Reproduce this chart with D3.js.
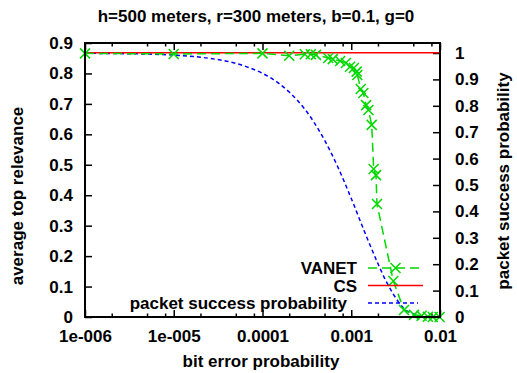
<!DOCTYPE html>
<html>
<head>
<meta charset="utf-8">
<script src="https://cdn.jsdelivr.net/npm/d3@7"></script>
<style>
  body { margin: 0; background: #fff; }
  text { font-family: "Liberation Sans", Arial, sans-serif; font-weight: bold; }
</style>
</head>
<body>
<div id="chart"></div>
<script>
// chart size
const width = 517,
      height = 373;
const margin = { top: 43, right: 77, bottom: 56, left: 85 };

// data
const titleText = "h=500 meters, r=300 meters, b=0.1, g=0";

const vanetX = [1e-6, 1e-5, 1e-4, 2e-4, 3e-4, 3.5e-4, 4e-4, 5.5e-4, 6.2e-4, 7.5e-4, 8.7e-4,
                9.7e-4, 1.07e-3, 1.15e-3, 1.17e-3, 1.28e-3, 1.37e-3, 1.47e-3, 1.56e-3, 1.7e-3,
                1.79e-3, 1.9e-3, 1.95e-3, 2.98e-3, 3.93e-3, 5.1e-3, 6.2e-3, 7.3e-3, 8.3e-3, 9.9e-3];
const vanetY = [0.866, 0.864, 0.866, 0.858, 0.863, 0.863, 0.861, 0.851, 0.847, 0.841, 0.834,
                0.822, 0.818, 0.806, 0.795, 0.749, 0.736, 0.696, 0.680, 0.631,
                0.486, 0.466, 0.371, 0.118, 0.023, 0.007, 0.004, 0.001, 0, 0];

const csX = [1e-6, 1e-2];
const csY = [0.868, 0.868];

const pspX = [1e-6, 2e-6, 5e-6, 1e-5, 2e-5, 3e-5, 5e-5, 7e-5, 1e-4, 1.5e-4, 2e-4, 3e-4, 4e-4,
              5e-4, 7e-4, 1e-3, 1.5e-3, 2e-3, 2.5e-3, 3e-3, 4e-3, 5e-3, 6e-3, 8e-3, 1e-2];
const pspY = [0.999, 0.998, 0.996, 0.992, 0.984, 0.976, 0.961, 0.945, 0.923, 0.887, 0.852, 0.787, 0.726,
              0.670, 0.571, 0.449, 0.301, 0.202, 0.132, 0.085, 0.03, 0.012, 0.004, 0.001, 0];

const xMajor = [1e-6, 1e-5, 1e-4, 1e-3, 1e-2];
const xLabels = ["1e-006", "1e-005", "0.0001", "0.001", "0.01"];
const xMinorSteps = [2, 5, 8];
const yLeftTicks = [0, 0.1, 0.2, 0.3, 0.4, 0.5, 0.6, 0.7, 0.8, 0.9];
const yLeftLabels = ["0", "0.1", "0.2", "0.3", "0.4", "0.5", "0.6", "0.7", "0.8", "0.9"];
const yRightTicks = [0, 0.1, 0.2, 0.3, 0.4, 0.5, 0.6, 0.7, 0.8, 0.9, 1];
const yRightLabels = ["0", "0.1", "0.2", "0.3", "0.4", "0.5", "0.6", "0.7", "0.8", "0.9", "1"];

const legendItems = ["VANET", "CS", "packet success probability"];

// colours
const green = "#00d800", red = "#ff0000", blue = "#0000ff";

const svg = d3.select("#chart").append("svg")
    .attr("width", width)
    .attr("height", height);

const x = d3.scaleLog().domain([1e-6, 1e-2]).range([margin.left, width - margin.right]);
const yL = d3.scaleLinear().domain([0, 0.9]).range([height - margin.bottom, margin.top]);
const yR = d3.scaleLinear().domain([0, 1]).range([height - margin.bottom, margin.top + 10]);

const plotBottom = height - margin.bottom;
const plotRight = width - margin.right;

// minor tick positions for the log axis
const xMinor = [];
xMajor.slice(0, -1).forEach(d => xMinorSteps.forEach(s => xMinor.push(d * s)));

// axes (gnuplot style: ticks pointing inward)
function styleAxis(g) {
    g.select(".domain").remove();
    g.selectAll(".tick line").attr("stroke", "#000").attr("stroke-width", 1.5);
    g.selectAll(".tick text").attr("fill", "#000").style("font-size", "17px");
}

svg.append("g")
    .attr("transform", `translate(0,${plotBottom})`)
    .call(d3.axisBottom(x).tickValues(xMajor).tickFormat((d, i) => xLabels[i]).tickSize(-7).tickPadding(13))
    .call(styleAxis);
svg.append("g")
    .attr("transform", `translate(0,${plotBottom})`)
    .call(d3.axisBottom(x).tickValues(xMinor).tickFormat("").tickSize(-3.5))
    .call(styleAxis);
svg.append("g")
    .attr("transform", `translate(0,${margin.top})`)
    .call(d3.axisTop(x).tickValues(xMajor).tickFormat("").tickSize(-7))
    .call(styleAxis);
svg.append("g")
    .attr("transform", `translate(0,${margin.top})`)
    .call(d3.axisTop(x).tickValues(xMinor).tickFormat("").tickSize(-3.5))
    .call(styleAxis);

svg.append("g")
    .attr("transform", `translate(${margin.left},0)`)
    .call(d3.axisLeft(yL).tickValues(yLeftTicks).tickFormat((d, i) => yLeftLabels[i]).tickSize(-7).tickPadding(12))
    .call(styleAxis);
svg.append("g")
    .attr("transform", `translate(${plotRight},0)`)
    .call(d3.axisRight(yR).tickValues(yRightTicks).tickFormat((d, i) => yRightLabels[i]).tickSize(-7).tickPadding(15))
    .call(styleAxis);

// series
const plot = svg.append("g");

const pspLine = d3.line().x((d, i) => x(pspX[i])).y(d => yR(d)).curve(d3.curveMonotoneX);
plot.append("path")
    .attr("d", pspLine(pspY))
    .attr("fill", "none")
    .attr("stroke", blue)
    .attr("stroke-width", 1.5)
    .attr("stroke-dasharray", "4,3");

const csLine = d3.line().x((d, i) => x(csX[i])).y(d => yL(d));
plot.append("path")
    .attr("d", csLine(csY))
    .attr("fill", "none")
    .attr("stroke", red)
    .attr("stroke-width", 1.5);

const vanetLine = d3.line().x((d, i) => x(vanetX[i])).y(d => yL(d));
plot.append("path")
    .attr("d", vanetLine(vanetY))
    .attr("fill", "none")
    .attr("stroke", green)
    .attr("stroke-width", 1.5)
    .attr("stroke-dasharray", "9,5");

// cross markers
function cross(g, cx, cy) {
    const s = 5;
    g.append("path")
        .attr("d", `M${cx - s},${cy - s}L${cx + s},${cy + s}M${cx - s},${cy + s}L${cx + s},${cy - s}`)
        .attr("stroke", green)
        .attr("stroke-width", 1.5)
        .attr("fill", "none");
}
vanetY.forEach((d, i) => cross(plot, x(vanetX[i]), yL(d)));

// border
svg.append("rect")
    .attr("x", margin.left)
    .attr("y", margin.top)
    .attr("width", plotRight - margin.left)
    .attr("height", plotBottom - margin.top)
    .attr("fill", "none")
    .attr("stroke", "#000")
    .attr("stroke-width", 2);

// legend
const legend = svg.append("g");
const legendTop = 268, legendStep = 17.5;
const textRight = [357, 357, 347];
legendItems.forEach((name, i) => {
    const ly = legendTop + i * legendStep;
    legend.append("text")
        .attr("x", textRight[i])
        .attr("y", ly + 6)
        .style("text-anchor", "end")
        .style("font-size", "17px")
        .text(name);
    const line = legend.append("line")
        .attr("x1", 368).attr("x2", 423)
        .attr("y1", ly).attr("y2", ly)
        .attr("stroke-width", 1.5);
    if (i === 0) {
        line.attr("stroke", green).attr("stroke-dasharray", "9,5");
        cross(legend, 395.5, ly);
    } else if (i === 1) {
        line.attr("stroke", red);
    } else {
        line.attr("stroke", blue).attr("stroke-dasharray", "4,3").attr("x2", 418);
    }
});

// titles
svg.append("text")
    .attr("x", 256)
    .attr("y", 22)
    .style("text-anchor", "middle")
    .style("font-size", "17px")
    .text(titleText);

svg.append("text")
    .attr("x", 261)
    .attr("y", 367)
    .style("text-anchor", "middle")
    .style("font-size", "17px")
    .text("bit error probability");

svg.append("text")
    .attr("transform", "translate(23,196) rotate(-90)")
    .style("text-anchor", "middle")
    .style("font-size", "17px")
    .text("average top relevance");

svg.append("text")
    .attr("transform", "translate(509,181) rotate(-90)")
    .style("text-anchor", "middle")
    .style("font-size", "17px")
    .text("packet success probability");
</script>
</body>
</html>
